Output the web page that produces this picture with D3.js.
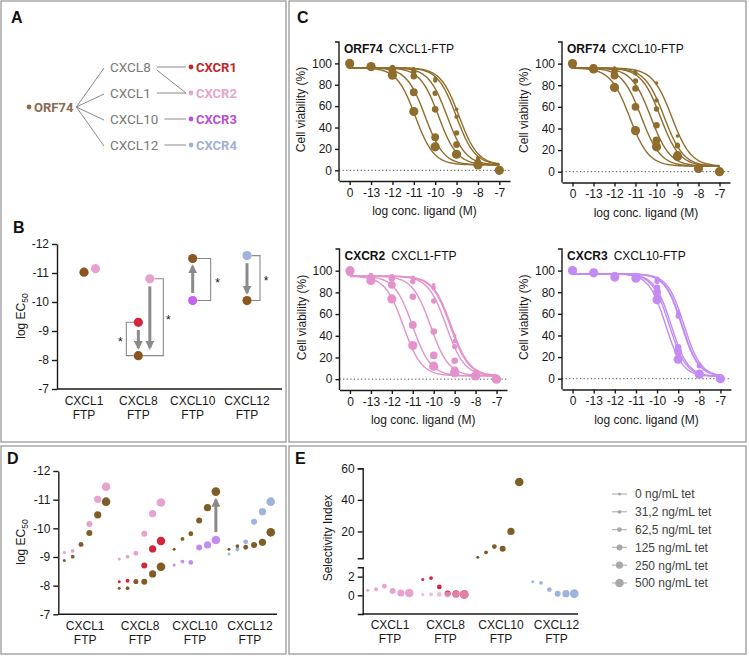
<!DOCTYPE html>
<html>
<head>
<meta charset="utf-8">
<script src="https://cdn.jsdelivr.net/npm/d3@7"></script>
<style>
  body { margin: 0; background: #fff; }
  svg { display: block; font-family: "Liberation Sans", Arial, sans-serif; }
</style>
</head>
<body>
<svg id="fig" width="749" height="656"></svg>
<script>
// ---------- data ----------
var tetLevels = ["0 ng/mL tet", "31,2 ng/mL tet", "62,5 ng/mL tet", "125 ng/mL tet", "250 ng/mL tet", "500 ng/mL tet"];
var ftpCats = ["CXCL1", "CXCL8", "CXCL10", "CXCL12"];

// panel A network
var chemokines = ["CXCL8", "CXCL1", "CXCL10", "CXCL12"];
var receptors = ["CXCR1", "CXCR2", "CXCR3", "CXCR4"];
var ligandLinks = [["CXCL8", "CXCR1"], ["CXCL8", "CXCR2"], ["CXCL1", "CXCR2"], ["CXCL10", "CXCR3"], ["CXCL12", "CXCR4"]];

// panel B: log EC50 (one per FTP, null = not tested)
var bOrf74 = [-11.03, -8.15, -11.5, -10.05];
var bCxcr1 = [null, -9.3, null, null];
var bCxcr2 = [-11.15, -10.8, null, null];
var bCxcr3 = [null, null, -10.05, null];
var bCxcr4 = [null, null, null, -11.6];

// panel C: concentration points and labels
var concs = [-14, -13, -12, -11, -10, -9, -8, -7];
var concLabels = ["0", "-13", "-12", "-11", "-10", "-9", "-8", "-7"];

// ORF74 / CXCL1-FTP
var c1Ec50 = [-8.88, -9.01, -9.44, -9.84, -10.47, -10.93];
var c1Pts = [
  [97, 97, 97, 95, 86, 57, 12, 1],
  [97, 96, 96, 93, 84, 50, 10, 1],
  [98, 96, 96, 92, 72, 35, 8, 0],
  [98, 96, 95, 88, 57, 24, 7, 0],
  [99, 97, 93, 73, 31, 15, 6, 0],
  [100, 97, 89, 55, 22, 15, 5, 0]
];
// ORF74 / CXCL10-FTP
var c2Ec50 = [-9.27, -9.63, -9.81, -10.27, -10.72, -11.28];
var c2Pts = [
  [97, 96, 96, 93, 82, 33, 6, 1],
  [98, 96, 95, 91, 66, 25, 5, 1],
  [98, 96, 94, 84, 58, 24, 5, 0],
  [99, 96, 93, 77, 43, 16, 4, 0],
  [99, 96, 89, 60, 29, 15, 3, 0],
  [100, 95, 78, 38, 23, 14, 3, 0]
];
// CXCR2 / CXCL1-FTP
var c3Ec50 = [-9.16, -9.21, -9.4, -10.15, -11.01, -11.45];
var c3Pts = [
  [100, 96, 95, 94, 87, 40, 8, 1],
  [99, 96, 95, 93, 84, 35, 7, 1],
  [99, 95, 94, 90, 72, 30, 6, 0],
  [98, 94, 93, 76, 44, 17, 4, 0],
  [99, 93, 87, 50, 22, 8, 3, 0],
  [100, 91, 74, 31, 12, 6, 3, 0]
];
// CXCR3 / CXCL10-FTP
var c4Ec50 = [-8.72, -8.84, -8.81, -9.33, -9.42, -9.59];
var c4Pts = [
  [100, 98, 97, 96, 93, 62, 13, 0],
  [100, 98, 97, 96, 92, 60, 12, 0],
  [100, 98, 96, 95, 90, 58, 12, 0],
  [100, 98, 95, 95, 84, 29, 5, 0],
  [100, 98, 95, 94, 80, 25, 5, 0],
  [100, 98, 94, 93, 73, 18, 4, 0]
];

// panel D: log EC50 per tet level
var dCxcl1Orf74 = [-8.88, -9.01, -9.44, -9.84, -10.47, -10.93];
var dCxcl1Cxcr2 = [-9.16, -9.21, -9.42, -10.15, -11.01, -11.45];
var dCxcl8Orf74 = [-7.91, -7.91, -8.14, -8.14, -8.41, -8.66];
var dCxcl8Cxcr1 = [-8.14, -8.17, -8.14, -8.7, -9.28, -9.56];
var dCxcl8Cxcr2 = [-8.93, -9.01, -9.13, -9.81, -10.51, -10.9];
var dCxcl10Orf74 = [-9.27, -9.63, -9.81, -10.27, -10.72, -11.28];
var dCxcl10Cxcr3 = [-8.72, -8.84, -8.81, -9.33, -9.42, -9.59];
var dCxcl12Orf74 = [-9.27, -9.38, -9.34, -9.42, -9.51, -9.86];
var dCxcl12Cxcr4 = [-9.1, -9.27, -9.53, -10.23, -10.58, -10.93];

// panel E: selectivity index per tet level
var eCxcl1Cxcr2 = [0.55, 0.65, 0.98, 0.47, 0.25, 0.25];
var eCxcl8Cxcr1 = [1.7, 1.85, 0.9, 0.2, 0.15, 0.1];
var eCxcl8Cxcr2 = [0.1, 0.1, 0.1, 0.1, 0.1, 0.1];
var eCxcl10Cxcr3 = [3.6, 6.8, 10.4, 9.0, 20, 51.3];
var eCxcl12Cxcr4 = [1.45, 1.34, 0.62, 0.18, 0.18, 0.18];

// ---------- styles ----------
var colOrf = "#8a5622", colOrfD = "#7f5d27", colOrfC = "#8f6d2d";
var colPink = "#e8a2cf", colPinkC = "#e392cb";
var colRed = "#d3263b", colPurple = "#c463ee", colLav = "#c48bf0", colBlue = "#9fb4dd";
var axisCol = "#1a1a1a", txtCol = "#1a1a1a";
var plain = d => String(d);

var svg = d3.select("#fig");

// arrow head
svg.append("defs").append("marker")
  .attr("id", "arr").attr("viewBox", "0 0 10 10")
  .attr("refX", 8).attr("refY", 5)
  .attr("markerWidth", 9).attr("markerHeight", 9)
  .attr("markerUnits", "userSpaceOnUse")
  .attr("orient", "auto")
  .append("path").attr("d", "M0,0L10,5L0,10Z").attr("fill", "#8a8a8a");

// frames
var frames = [[1, 1, 285, 441], [289, 1, 457, 441], [1, 446, 285, 208], [289, 446, 457, 208]];
svg.selectAll("rect.frame").data(frames).enter().append("rect")
  .attr("class", "frame")
  .attr("x", d => d[0]).attr("y", d => d[1])
  .attr("width", d => d[2]).attr("height", d => d[3])
  .attr("fill", "none").attr("stroke", "#9a9a9a").attr("stroke-width", 1.3);

// panel letters
var letters = [["A", 11, 23], ["B", 13, 233], ["C", 297, 23], ["D", 7, 464], ["E", 295, 464]];
svg.selectAll("text.letter").data(letters).enter().append("text")
  .attr("class", "letter")
  .attr("x", d => d[1]).attr("y", d => d[2])
  .attr("font-size", 16).attr("font-weight", "bold").attr("fill", "#111")
  .text(d => d[0]);

function styleAxis(sel) {
  sel.selectAll("path, line").attr("stroke", axisCol).attr("stroke-width", 1.4);
  sel.selectAll("path").attr("fill", "none");
  sel.selectAll("text").attr("font-size", 12).attr("fill", txtCol)
    .attr("font-family", "'Liberation Sans', Arial, sans-serif");
}

function ecLabel(g, x, y) {
  var t = g.append("text")
    .attr("transform", "translate(" + x + "," + y + ") rotate(-90)")
    .attr("text-anchor", "middle").attr("font-size", 12).attr("fill", txtCol);
  t.append("tspan").text("log EC");
  t.append("tspan").attr("font-size", 8.5).attr("dy", 3).text("50");
}

function catLabels(g, scale, yBase) {
  var t = g.selectAll("text.cat").data(ftpCats).enter().append("text")
    .attr("class", "cat").attr("text-anchor", "middle")
    .attr("font-size", 12).attr("fill", txtCol);
  t.append("tspan").attr("x", d => scale(d)).attr("y", yBase).text(d => d);
  t.append("tspan").attr("x", d => scale(d)).attr("y", yBase + 14).text("FTP");
}

// ---------- panel A ----------
(function () {
  var g = svg.append("g").attr("font-family", "Roboto, 'Liberation Sans', sans-serif");
  var chemY = d3.scalePoint().domain(chemokines).range([67, 145]);
  var recY = d3.scalePoint().domain(receptors).range([67, 145]);
  var recCol = { CXCR1: "#c0272d", CXCR2: "#e4a6ca", CXCR3: "#b94fd2", CXCR4: "#9fb1d6" };
  var orfY = (chemY.range()[0] + chemY.range()[1]) / 2 + 1;

  g.append("circle").attr("cx", 29).attr("cy", orfY).attr("r", 2.4).attr("fill", "#8b6a4f");
  var orfT = g.append("text").attr("x", 34).attr("y", orfY).attr("dy", "0.36em")
    .attr("font-size", 13).attr("font-weight", "bold").attr("fill", "#8b6a4f").text("ORF74");
  var orfEnd = 34 + orfT.node().getComputedTextLength() + 3;

  var chemEnd = {};
  chemokines.forEach(function (c) {
    var t = g.append("text").attr("x", 110).attr("y", chemY(c)).attr("dy", "0.36em")
      .attr("font-size", 13.5).attr("fill", "#7a7a7a").text(c);
    chemEnd[c] = 110 + t.node().getComputedTextLength();
    g.append("line").attr("x1", orfEnd).attr("y1", orfY).attr("x2", 104).attr("y2", chemY(c) + 1)
      .attr("stroke", "#8a8a8a").attr("stroke-width", 1);
  });

  ligandLinks.forEach(function (l) {
    g.append("line").attr("x1", chemEnd[l[0]] + 6).attr("y1", chemY(l[0]) + (recY(l[1]) > chemY(l[0]) ? 3 : 0))
      .attr("x2", 186).attr("y2", recY(l[1]))
      .attr("stroke", "#8a8a8a").attr("stroke-width", 1);
  });

  receptors.forEach(function (r) {
    g.append("circle").attr("cx", 191).attr("cy", recY(r)).attr("r", 2.4).attr("fill", recCol[r]);
    g.append("text").attr("x", 196).attr("y", recY(r)).attr("dy", "0.36em")
      .attr("font-size", 13).attr("font-weight", "bold").attr("fill", recCol[r]).text(r);
  });
})();

// ---------- panel B ----------
(function () {
  var g = svg.append("g");
  var x = d3.scalePoint().domain(ftpCats).range([84, 247]);
  var y = d3.scaleLinear().domain([-7, -12]).range([389, 244]);
  var r = 4.6;

  var ya = g.append("g").attr("transform", "translate(57,0)")
    .call(d3.axisLeft(y).tickValues([-12, -11, -10, -9, -8, -7]).tickSize(5).tickSizeOuter(0).tickFormat(plain));
  styleAxis(ya);
  g.append("line").attr("x1", 57).attr("x2", 282).attr("y1", 389).attr("y2", 389)
    .attr("stroke", axisCol).attr("stroke-width", 1.4);
  catLabels(g, x, 405);
  ecLabel(g, 25, 316);

  var line = function (pts) {
    g.append("path").attr("d", d3.line()(pts)).attr("fill", "none")
      .attr("stroke", "#8a8a8a").attr("stroke-width", 1.1);
  };
  var star = function (sx, sy) {
    g.append("text").attr("x", sx).attr("y", sy + 7).attr("text-anchor", "middle")
      .attr("font-size", 12).attr("fill", "#111").text("*");
  };
  var arrow = function (ax, from, to) {
    var dir = to > from ? 1 : -1;
    g.append("line").attr("x1", ax).attr("x2", ax)
      .attr("y1", from + dir * (r + 3)).attr("y2", to - dir * (r + 3))
      .attr("stroke", "#8a8a8a").attr("stroke-width", 3).attr("marker-end", "url(#arr)");
  };

  // CXCL8: CXCR1 -> ORF74 (left bracket), CXCR2 -> ORF74 (right bracket)
  var c8 = x("CXCL8"), yo8 = y(bOrf74[1]), y1 = y(bCxcr1[1]), y2 = y(bCxcr2[1]);
  line([[c8 - r, y1], [c8 - 12, y1], [c8 - 12, yo8], [c8 - r, yo8]]);
  star(c8 - 18, (y1 + yo8) / 2);
  line([[c8 + 11.5 + r, y2], [c8 + 25, y2], [c8 + 25, yo8], [c8 + r, yo8]]);
  star(c8 + 30, (y2 + yo8) / 2);
  arrow(c8, y1, yo8);
  arrow(c8 + 11.5, y2, yo8);
  // CXCL10: CXCR3 -> ORF74
  var c10 = x("CXCL10"), yo10 = y(bOrf74[2]), y3 = y(bCxcr3[2]);
  line([[c10 + r, yo10], [c10 + 18, yo10], [c10 + 18, y3], [c10 + r, y3]]);
  star(c10 + 25, (yo10 + y3) / 2);
  arrow(c10, y3, yo10);
  // CXCL12: CXCR4 -> ORF74
  var c12 = x("CXCL12"), yo12 = y(bOrf74[3]), y4 = y(bCxcr4[3]);
  line([[c12 + r, y4], [c12 + 13, y4], [c12 + 13, yo12], [c12 + r, yo12]]);
  star(c12 + 19, (y4 + yo12) / 2);
  arrow(c12, y4, yo12);

  var series = [
    { vals: bCxcr2, col: colPink, dx: 11.5 },
    { vals: bCxcr1, col: colRed, dx: 0 },
    { vals: bCxcr3, col: colPurple, dx: 0 },
    { vals: bCxcr4, col: colBlue, dx: 0 },
    { vals: bOrf74, col: colOrf, dx: 0 }
  ];
  series.forEach(function (s) {
    g.selectAll(null).data(s.vals.map((v, i) => [ftpCats[i], v]).filter(d => d[1] !== null))
      .enter().append("circle")
      .attr("cx", d => x(d[0]) + s.dx).attr("cy", d => y(d[1])).attr("r", r)
      .attr("fill", s.col);
  });
})();

// ---------- panel C ----------
function curvePanel(cfg) {
  var g = svg.append("g");
  var x = d3.scaleLinear().domain([-14.5, -6.5]).range([cfg.left, cfg.right]);
  var y = d3.scaleLinear().domain([-10, 120]).range([cfg.bottom, cfg.top]);
  var sizes = [1.8, 2.2, 2.7, 3.3, 3.9, 4.6];

  g.append("line").attr("x1", cfg.left).attr("x2", cfg.right).attr("y1", y(0)).attr("y2", y(0))
    .attr("stroke", "#444").attr("stroke-width", 1).attr("stroke-dasharray", "1.2,2.4");

  var xs = d3.range(-14, -6.99, 0.05);
  var line = d3.line().x(d => x(d[0])).y(d => y(d[1]));
  cfg.ec50.forEach(function (e) {
    var pts = xs.map(v => [v, cfg.bottomVal + (cfg.topVal - cfg.bottomVal) / (1 + Math.pow(10, (v - e) * cfg.hill))]);
    g.append("path").attr("d", line(pts)).attr("fill", "none")
      .attr("stroke", cfg.curveCol).attr("stroke-width", 1.4);
  });
  for (var i = cfg.pts.length - 1; i >= 0; i--) {
    g.selectAll(null).data(cfg.pts[i]).enter().append("circle")
      .attr("cx", (d, j) => x(concs[j])).attr("cy", d => y(d))
      .attr("r", sizes[i]).attr("fill", cfg.ptCol);
  }

  var ya = g.append("g").attr("transform", "translate(" + cfg.left + ",0)")
    .call(d3.axisLeft(y).tickValues([0, 20, 40, 60, 80, 100]).tickSize(4).tickSizeOuter(0));
  ya.select(".domain").remove();
  ya.append("path").attr("class", "domain")
    .attr("d", "M-4," + cfg.top + "H0V" + cfg.bottom);
  styleAxis(ya);

  var xa = g.append("g").attr("transform", "translate(0," + cfg.bottom + ")")
    .call(d3.axisBottom(x).tickValues(concs).tickFormat((d, j) => concLabels[j]).tickSize(4).tickSizeOuter(0));
  styleAxis(xa);

  var t = g.append("text").attr("x", cfg.left + 5).attr("y", cfg.top + 11)
    .attr("font-size", 12).attr("fill", "#111");
  t.append("tspan").attr("font-weight", "bold").text(cfg.rec);
  t.append("tspan").attr("dx", 6).text(cfg.lig);

  g.append("text")
    .attr("transform", "translate(" + (cfg.left - 34) + "," + ((cfg.top + cfg.bottom) / 2 - 2) + ") rotate(-90)")
    .attr("text-anchor", "middle").attr("font-size", 12).attr("fill", txtCol)
    .text("Cell viability (%)");
  g.append("text").attr("x", (cfg.left + cfg.right) / 2).attr("y", cfg.bottom + 34)
    .attr("text-anchor", "middle").attr("font-size", 12).attr("fill", txtCol)
    .text("log conc. ligand (M)");
}

curvePanel({ rec: "ORF74", lig: "CXCL1-FTP", left: 339, right: 510, top: 42, bottom: 181,
  ec50: c1Ec50, pts: c1Pts, topVal: 96, bottomVal: 5, hill: 1, curveCol: colOrfC, ptCol: colOrfC });
curvePanel({ rec: "ORF74", lig: "CXCL10-FTP", left: 562, right: 730, top: 42, bottom: 182.5,
  ec50: c2Ec50, pts: c2Pts, topVal: 96, bottomVal: 5, hill: 0.95, curveCol: colOrfC, ptCol: colOrfC });
curvePanel({ rec: "CXCR2", lig: "CXCL1-FTP", left: 339.5, right: 507, top: 249, bottom: 390,
  ec50: c3Ec50, pts: c3Pts, topVal: 95, bottomVal: 3, hill: 1, curveCol: colPinkC, ptCol: colPinkC });
curvePanel({ rec: "CXCR3", lig: "CXCL10-FTP", left: 562, right: 731, top: 249, bottom: 389.5,
  ec50: c4Ec50, pts: c4Pts, topVal: 97, bottomVal: 2, hill: 1.1, curveCol: colLav, ptCol: colLav });

// ---------- panel D ----------
var dotSizes = [1.5, 1.9, 2.4, 3.0, 3.6, 4.3];
(function () {
  var g = svg.append("g");
  var x = d3.scalePoint().domain(ftpCats).range([85.2, 249.9]);
  var y = d3.scaleLinear().domain([-7, -12]).range([614.3, 471]);
  var off = i => (i - 2.5) * 8.35;

  var ya = g.append("g").attr("transform", "translate(58.3,0)")
    .call(d3.axisLeft(y).tickValues([-12, -11, -10, -9, -8, -7]).tickSize(5).tickSizeOuter(0).tickFormat(plain));
  styleAxis(ya);
  g.append("line").attr("x1", 58.3).attr("x2", 277).attr("y1", 614.3).attr("y2", 614.3)
    .attr("stroke", axisCol).attr("stroke-width", 1.4);
  catLabels(g, x, 630);
  ecLabel(g, 25, 542);

  var series = [
    ["CXCL1", dCxcl1Cxcr2, colPink], ["CXCL1", dCxcl1Orf74, colOrfD],
    ["CXCL8", dCxcl8Cxcr2, colPink], ["CXCL8", dCxcl8Cxcr1, colRed], ["CXCL8", dCxcl8Orf74, colOrfD],
    ["CXCL10", dCxcl10Cxcr3, colLav], ["CXCL10", dCxcl10Orf74, colOrfD],
    ["CXCL12", dCxcl12Cxcr4, colBlue], ["CXCL12", dCxcl12Orf74, colOrfD]
  ];
  series.forEach(function (s) {
    g.selectAll(null).data(s[1]).enter().append("circle")
      .attr("cx", (d, i) => x(s[0]) + off(i)).attr("cy", d => y(d))
      .attr("r", (d, i) => dotSizes[i]).attr("fill", s[2]);
  });

  var ax = x("CXCL10") + off(5);
  g.append("line").attr("x1", ax).attr("x2", ax)
    .attr("y1", y(dCxcl10Cxcr3[5]) - 8).attr("y2", y(dCxcl10Orf74[5]) + 8)
    .attr("stroke", "#8a8a8a").attr("stroke-width", 3).attr("marker-end", "url(#arr)");
})();

// ---------- panel E ----------
(function () {
  var g = svg.append("g");
  var x = d3.scalePoint().domain(ftpCats).range([388.5, 553.5]);
  var yUp = d3.scaleLinear().domain([3, 60]).range([558.3, 468.3]);
  var yLo = d3.scaleLinear().domain([-2, 3]).range([614, 567.3]);
  var y = v => v > 3 ? yUp(v) : yLo(v);
  var off = i => (i - 2.5) * 8.3;
  var ax0 = 362.7;

  var ua = g.append("g").attr("transform", "translate(" + ax0 + ",0)")
    .call(d3.axisLeft(yUp).tickValues([20, 40, 60]).tickSize(5).tickSizeOuter(5).tickFormat(plain));
  styleAxis(ua);
  var la = g.append("g").attr("transform", "translate(" + ax0 + ",0)")
    .call(d3.axisLeft(yLo).tickValues([0, 2]).tickSize(5).tickSizeOuter(5).tickFormat(plain));
  styleAxis(la);
  g.append("line").attr("x1", ax0).attr("x2", 578).attr("y1", 614).attr("y2", 614)
    .attr("stroke", axisCol).attr("stroke-width", 1.4);
  catLabels(g, d3.scalePoint().domain(ftpCats).range([390, 556.5]), 629);
  g.append("text")
    .attr("transform", "translate(332,538) rotate(-90)")
    .attr("text-anchor", "middle").attr("font-size", 12).attr("fill", txtCol)
    .text("Selectivity Index");

  var series = [
    ["CXCL1", eCxcl1Cxcr2, colPink, 1],
    ["CXCL8", eCxcl8Cxcr1, colRed, 1], ["CXCL8", eCxcl8Cxcr2, colPink, 0.72],
    ["CXCL10", eCxcl10Cxcr3, colOrfD, 1],
    ["CXCL12", eCxcl12Cxcr4, colBlue, 1]
  ];
  series.forEach(function (s) {
    g.selectAll(null).data(s[1]).enter().append("circle")
      .attr("cx", (d, i) => x(s[0]) + off(i)).attr("cy", d => y(d))
      .attr("r", (d, i) => dotSizes[i]).attr("fill", s[2]).attr("fill-opacity", s[3]);
  });

  // legend
  var ly = d3.scalePoint().domain(tetLevels).range([494, 583]);
  var lg = g.selectAll("g.leg").data(tetLevels).enter().append("g")
    .attr("class", "leg").attr("transform", d => "translate(0," + ly(d) + ")");
  lg.append("line").attr("x1", 612).attr("x2", 627).attr("stroke", "#b5b5b5").attr("stroke-width", 1.2);
  lg.append("circle").attr("cx", 619.5).attr("r", (d, i) => dotSizes[i]).attr("fill", "#a8a8a8");
  lg.append("text").attr("x", 635).attr("dy", "0.36em").attr("font-size", 12).attr("fill", "#444")
    .text(d => d);
})();
</script>
</body>
</html>
